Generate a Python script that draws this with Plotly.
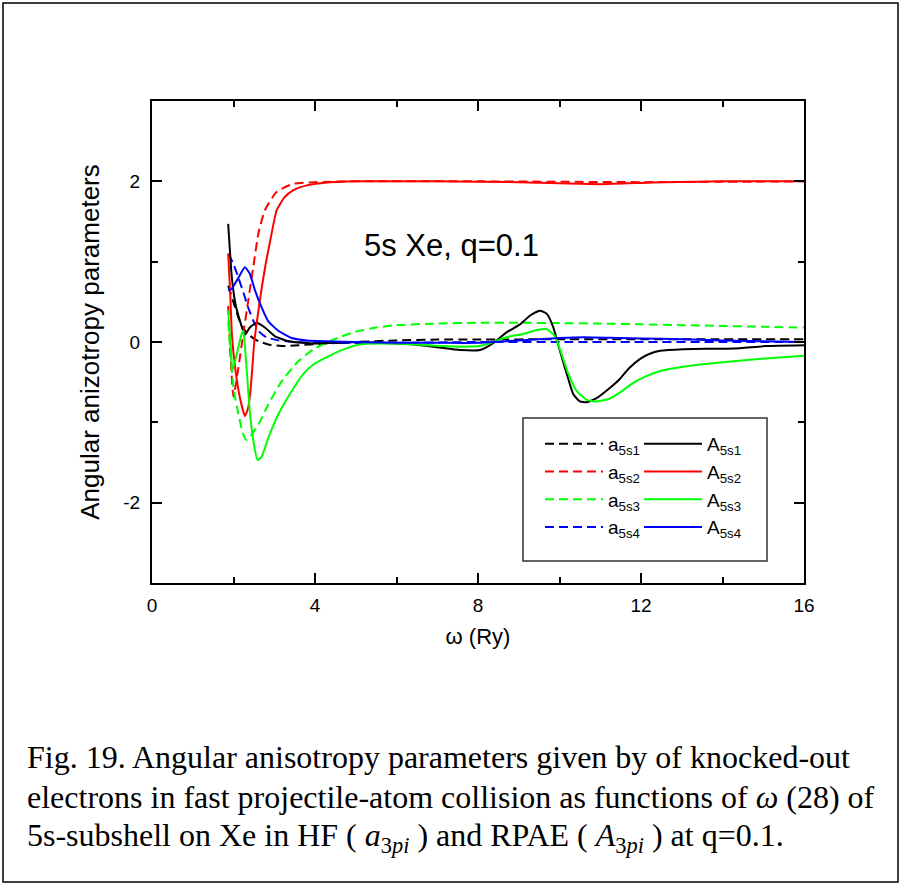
import plotly.graph_objects as go

# Photon energy grid (Ry) and anisotropy parameters for the 5s subshell of Xe, q = 0.1
# HF results (a_5s1 .. a_5s4), dashed
x_a1 = [1.87, 2.04, 2.20, 2.40, 2.61, 2.85, 3.18, 3.60, 4.20, 5.0, 6.0, 7.0, 8.0, 10.0, 12.0, 14.0, 16.0]
y_a1 = [0.70, 0.43, 0.20, 0.08, 0.01, -0.03, -0.05, -0.04, -0.02, 0.0, 0.02, 0.03, 0.03, 0.035, 0.035, 0.035, 0.035]

x_a2 = [1.87, 1.93, 2.00, 2.12, 2.24, 2.36, 2.49, 2.61, 2.77, 3.06, 3.47, 4.0, 5.0, 8.0, 12.0, 16.0]
y_a2 = [0.45, -0.20, -0.68, -0.32, 0.10, 0.51, 0.95, 1.35, 1.64, 1.87, 1.97, 1.99, 2.0, 2.0, 1.99, 2.0]

x_a3 = [1.87, 1.93, 2.00, 2.12, 2.24, 2.32, 2.45, 2.61, 2.85, 3.18, 3.59, 3.96, 4.45, 4.94, 5.5, 6.0,
        7.0, 8.0, 9.0, 10.0, 11.0, 12.0, 13.0, 14.0, 15.0, 16.0]
y_a3 = [0.25, -0.15, -0.57, -0.90, -1.15, -1.22, -1.15, -1.03, -0.78, -0.49, -0.24, -0.09, 0.03, 0.12, 0.18, 0.21,
        0.23, 0.24, 0.24, 0.235, 0.23, 0.22, 0.21, 0.20, 0.19, 0.18]

x_a4 = [1.87, 2.00, 2.12, 2.24, 2.36, 2.49, 2.61, 2.80, 3.10, 3.50, 4.0, 6.0, 8.0, 10.0, 12.0, 14.0, 16.0]
y_a4 = [1.10, 0.97, 0.80, 0.62, 0.43, 0.26, 0.14, 0.06, 0.02, 0.0, -0.01, -0.01, 0.0, 0.0, 0.0, 0.0, 0.0]

# RPAE results (A_5s1 .. A_5s4), solid
x_A1 = [1.87, 1.96, 2.05, 2.16, 2.28, 2.40, 2.57, 2.77, 3.02, 3.35, 3.70, 4.0, 5.0, 6.0, 6.6, 7.07, 7.56,
        8.05, 8.38, 8.70, 9.03, 9.28, 9.52, 9.69, 9.85, 10.01, 10.18, 10.34, 10.50, 10.67, 10.91, 11.24,
        11.48, 11.70, 11.98, 12.20, 12.47, 13.04, 14.27, 15.08, 16.0]
y_A1 = [1.47, 0.80, 0.47, 0.26, 0.09, 0.18, 0.24, 0.18, 0.07, 0.01, -0.01, -0.02, 0.0, -0.02, -0.04, -0.07, -0.10,
        -0.10, -0.01, 0.12, 0.22, 0.33, 0.39, 0.35, 0.18, -0.11, -0.40, -0.65, -0.74, -0.75, -0.70, -0.57,
        -0.46, -0.33, -0.21, -0.15, -0.11, -0.09, -0.08, -0.05, -0.04]

x_A2 = [1.87, 1.92, 1.96, 2.04, 2.16, 2.28, 2.36, 2.43, 2.51, 2.60, 2.70, 2.80, 2.90, 3.06, 3.25, 3.47, 3.80,
        4.20, 5.0, 7.0, 9.0, 10.0, 11.0, 12.0, 12.6, 14.0, 16.0]
y_A2 = [1.10, 0.60, 0.10, -0.32, -0.70, -0.92, -0.82, -0.53, 0.0, 0.35, 0.70, 1.0, 1.26, 1.64, 1.80, 1.89, 1.95,
        1.98, 2.0, 2.0, 1.99, 1.975, 1.965, 1.98, 1.99, 2.0, 2.0]

x_A3 = [1.87, 1.94, 1.97, 2.08, 2.20, 2.24, 2.32, 2.40, 2.49, 2.59, 2.69, 2.85, 3.10, 3.43, 3.71, 3.96, 4.61,
        5.1, 6.0, 7.07, 7.56, 8.05, 8.38, 8.70, 9.11, 9.44, 9.69, 9.89, 10.05, 10.22, 10.42, 10.67, 10.91,
        11.20, 11.48, 11.81, 12.10, 12.47, 13.0, 13.45, 14.67, 16.0]
y_A3 = [0.39, -0.11, -0.36, -0.15, 0.10, 0.14, -0.32, -0.86, -1.24, -1.47, -1.43, -1.20, -0.90, -0.61, -0.40,
        -0.28, -0.11, -0.03, -0.02, -0.05, -0.06, -0.05, 0.0, 0.06, 0.10, 0.15, 0.16, 0.07, -0.15, -0.40,
        -0.61, -0.72, -0.74, -0.71, -0.63, -0.51, -0.43, -0.36, -0.31, -0.28, -0.22, -0.17]

x_A4 = [1.87, 1.95, 2.12, 2.28, 2.40, 2.53, 2.69, 2.85, 3.10, 3.43, 3.80, 4.30, 5.0, 6.0, 7.0, 8.0, 9.0,
        10.0, 10.6, 11.5, 12.5, 14.0, 16.0]
y_A4 = [0.64, 0.66, 0.80, 0.93, 0.85, 0.64, 0.43, 0.26, 0.14, 0.05, 0.02, 0.01, 0.0, -0.01, -0.01, -0.01, 0.02,
        0.05, 0.06, 0.05, 0.04, 0.02, 0.0]

x_ticks = [0, 4, 8, 12, 16]
y_ticks = [-2, 0, 2]
y_tick_text = ["-2", "0", "2"]

colors = ["#000000", "#FF0000", "#00FF00", "#0000FF"]
hf_names = ["a<sub>5s1</sub>", "a<sub>5s2</sub>", "a<sub>5s3</sub>", "a<sub>5s4</sub>"]
rpae_names = ["A<sub>5s1</sub>", "A<sub>5s2</sub>", "A<sub>5s3</sub>", "A<sub>5s4</sub>"]
hf_data = [(x_a1, y_a1), (x_a2, y_a2), (x_a3, y_a3), (x_a4, y_a4)]
rpae_data = [(x_A1, y_A1), (x_A2, y_A2), (x_A3, y_A3), (x_A4, y_A4)]

fig = go.Figure()
# HF curves go into the left legend column, RPAE curves into the right one
for i in range(4):
    fig.add_trace(go.Scatter(
        x=hf_data[i][0], y=hf_data[i][1], mode="lines", name=hf_names[i], legend="legend",
        line=dict(color=colors[i], width=2, dash="9px,5px", shape="spline", smoothing=0.5),
    ))
for i in range(4):
    fig.add_trace(go.Scatter(
        x=rpae_data[i][0], y=rpae_data[i][1], mode="lines", name=rpae_names[i], legend="legend2",
        line=dict(color=colors[i], width=2, shape="spline", smoothing=0.5),
    ))

L, R, T, B = 152, 97, 101, 302
W, H = 901, 885
pw, ph = W - L - R, H - T - B


def px_x(px):
    return (px - L) / pw


def px_y(py):
    return (H - B - py) / ph


sans = "Liberation Sans, Arial, sans-serif"
serif = "Liberation Serif, Times New Roman, serif"
axis_font = dict(family=sans, size=19, color="black")
common_axis = dict(
    showline=True, linecolor="black", linewidth=2, mirror="ticks",
    ticks="inside", ticklen=10, tickwidth=1.5, tickcolor="black",
    showgrid=False, zeroline=False, tickfont=axis_font,
)

fig.update_xaxes(
    range=[0, 16], tickvals=x_ticks, ticktext=[str(v) for v in x_ticks], ticklabelstandoff=4,
    minor=dict(dtick=2, ticks="inside", ticklen=6, tickwidth=1.5, tickcolor="black", showgrid=False),
    title=dict(text="ω (Ry)", font=dict(family=sans, size=22, color="black"), standoff=14),
    **common_axis,
)
fig.update_yaxes(
    range=[-3, 3], tickvals=y_ticks, ticktext=y_tick_text, ticklabelstandoff=6,
    minor=dict(dtick=1, ticks="inside", ticklen=6, tickwidth=1.5, tickcolor="black", showgrid=False),
    title=dict(text="Angular anizotropy parameters", font=dict(family=sans, size=26, color="black"),
               standoff=16),
    **common_axis,
)

caption_font = dict(family=serif, size=32, color="black")
caption_lines = [
    "Fig. 19. Angular anisotropy parameters given by of knocked-out",
    "electrons in fast projectile-atom collision as functions of <i>ω</i> (28) of",
    "5s-subshell on Xe in HF ( <i>a</i><sub>3<i>pi</i></sub> ) and RPAE ( <i>A</i><sub>3<i>pi</i></sub> ) at q=0.1.",
]
caption_y = [757, 797, 837]

annotations = [
    dict(x=7.34, y=1.2, xref="x", yref="y", text="5s Xe, q=0.1", showarrow=False,
         font=dict(family=sans, size=31, color="black")),
]
for line, yy in zip(caption_lines, caption_y):
    annotations.append(dict(x=px_x(25), y=px_y(yy), xref="paper", yref="paper", text=line,
                            showarrow=False, xanchor="left", yanchor="middle", font=caption_font))

legend_font = dict(family=sans, size=19, color="black")
legend_common = dict(
    orientation="v", xanchor="left", yanchor="top", borderwidth=0,
    bgcolor="rgba(0,0,0,0)", itemwidth=58, font=legend_font, tracegroupgap=0,
)

fig.update_layout(
    width=W, height=H,
    margin=dict(l=L, r=R, t=T, b=B),
    paper_bgcolor="white", plot_bgcolor="white",
    showlegend=True,
    legend=dict(x=px_x(540), y=px_y(425), **legend_common),
    legend2=dict(x=px_x(639), y=px_y(425), **legend_common),
    annotations=annotations,
    shapes=[
        # outer frame of the figure panel
        dict(type="rect", xref="paper", yref="paper",
             x0=px_x(3), x1=px_x(898), y0=px_y(882), y1=px_y(3),
             line=dict(color="black", width=1.5)),
        # frame around the two legend columns
        dict(type="rect", xref="paper", yref="paper", layer="below",
             x0=px_x(523), x1=px_x(767), y0=px_y(561), y1=px_y(418),
             line=dict(color="#333333", width=1.5), fillcolor="white"),
    ],
)

fig.write_html("out.html")
